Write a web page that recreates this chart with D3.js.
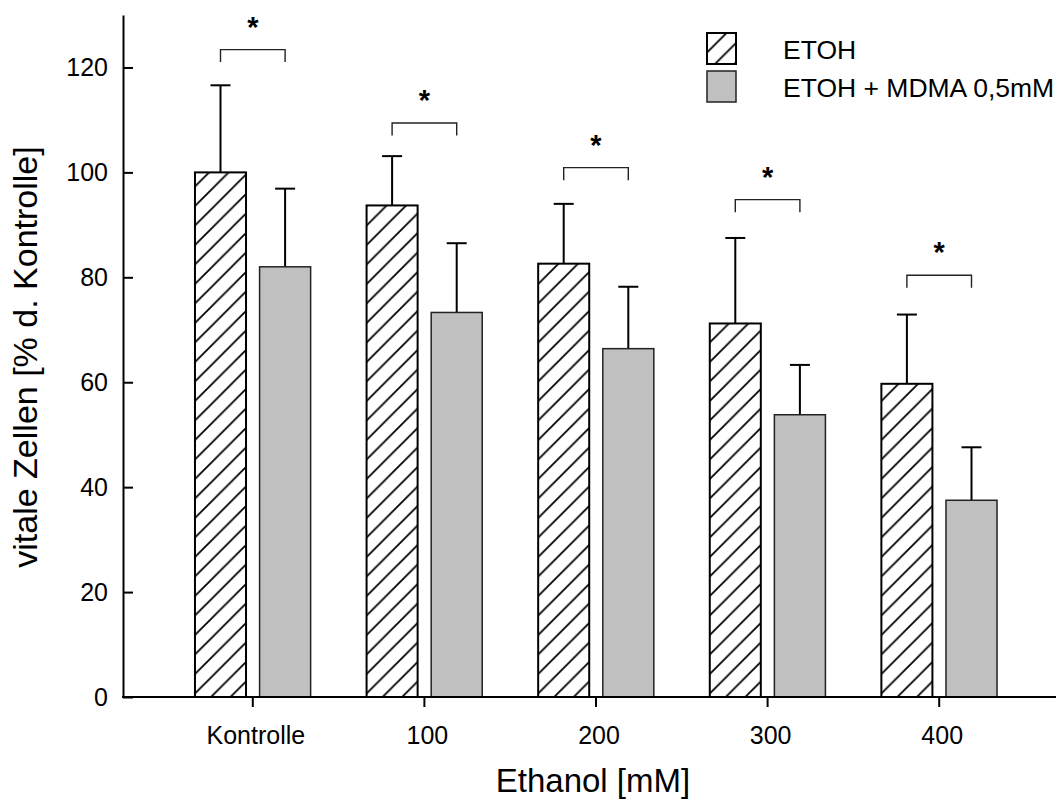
<!DOCTYPE html>
<html>
<head>
<meta charset="utf-8">
<script src="https://cdn.jsdelivr.net/npm/d3@7"></script>
<style>
  body { margin: 0; background: #fff; }
  svg { display: block; font-family: "Liberation Sans", Arial, sans-serif; }
</style>
</head>
<body>
<svg id="chart" width="1056" height="805"></svg>
<script>
// Ethanol concentrations on the x axis
const categories = ["Kontrolle", "100", "200", "300", "400"];
const seriesNames = ["ETOH", "ETOH + MDMA 0,5mM"];

// Viable cells, % of control (mean and upper error)
const etohMean = [100.0, 93.7, 82.6, 71.2, 59.7];
const etohErr  = [16.6, 9.4, 11.4, 16.3, 13.2];
const mdmaMean = [82.0, 73.3, 66.4, 53.8, 37.5];
const mdmaErr  = [14.9, 13.2, 11.8, 9.5, 10.1];

// Height of the significance bracket over each pair
const bracketLevel = [123.4, 109.4, 100.9, 94.8, 80.4];
const sigLabel = ["*", "*", "*", "*", "*"];

const yTicks = [0, 20, 40, 60, 80, 100, 120];

const svg = d3.select("#chart");
const FONT_TICK = 25;

const y = d3.scaleLinear().domain([0, 130]).range([697, 15]);
const x = d3.scaleBand().domain(categories).range([167, 1025]).padding(0);
const xs = d3.scaleBand().domain(seriesNames)
  .range([0, x.bandwidth()]).paddingInner(0.21).paddingOuter(0.433);

// hatch pattern for the ETOH bars
const S = 19.5;
const defs = svg.append("defs");
const pat = defs.append("pattern")
  .attr("id", "hatch").attr("patternUnits", "userSpaceOnUse")
  .attr("width", S).attr("height", S);
pat.append("rect").attr("width", S).attr("height", S).attr("fill", "#fff");
pat.append("path")
  .attr("d", `M0,${S} L${S},0 M${-S/2},${S/2} L${S/2},${-S/2} M${S/2},${S*1.5} L${S*1.5},${S/2}`)
  .attr("stroke", "#000").attr("stroke-width", 1.8).attr("fill", "none");

const rows = categories.map((c, i) => ({
  cat: c,
  bars: [
    { s: seriesNames[0], v: etohMean[i], e: etohErr[i] },
    { s: seriesNames[1], v: mdmaMean[i], e: mdmaErr[i] }
  ],
  bracket: bracketLevel[i],
  sig: sigLabel[i]
}));

const g = svg.append("g");

const groups = g.selectAll("g.grp").data(rows).join("g")
  .attr("class", "grp")
  .attr("transform", d => `translate(${x(d.cat)},0)`);

// error bars (upper only), drawn under the bars
groups.selectAll("line.err").data(d => d.bars).join("line")
  .attr("class", "err")
  .attr("x1", d => xs(d.s) + xs.bandwidth() / 2)
  .attr("x2", d => xs(d.s) + xs.bandwidth() / 2)
  .attr("y1", d => y(d.v))
  .attr("y2", d => y(d.v + d.e))
  .attr("stroke", "#000").attr("stroke-width", 2);
groups.selectAll("line.cap").data(d => d.bars).join("line")
  .attr("class", "cap")
  .attr("x1", d => xs(d.s) + xs.bandwidth() / 2 - 10)
  .attr("x2", d => xs(d.s) + xs.bandwidth() / 2 + 10)
  .attr("y1", d => y(d.v + d.e))
  .attr("y2", d => y(d.v + d.e))
  .attr("stroke", "#000").attr("stroke-width", 2);

groups.selectAll("rect.bar").data(d => d.bars).join("rect")
  .attr("class", "bar")
  .attr("x", d => xs(d.s))
  .attr("width", xs.bandwidth())
  .attr("y", d => y(d.v))
  .attr("height", d => y(0) - y(d.v))
  .attr("fill", (d, i) => i === 0 ? "url(#hatch)" : "#c0c0c0")
  .attr("stroke", (d, i) => i === 0 ? "#000" : "#222")
  .attr("stroke-width", (d, i) => i === 0 ? 2 : 1.5);

// significance brackets
groups.append("path")
  .attr("d", d => {
    const x1 = xs(seriesNames[0]) + xs.bandwidth() / 2;
    const x2 = xs(seriesNames[1]) + xs.bandwidth() / 2;
    const yb = y(d.bracket);
    return `M${x1},${yb + 12.5} V${yb} H${x2} V${yb + 12.5}`;
  })
  .attr("fill", "none").attr("stroke", "#222").attr("stroke-width", 1.4);
groups.append("text")
  .attr("x", x.bandwidth() / 2)
  .attr("y", d => y(d.bracket) - 13)
  .attr("text-anchor", "middle")
  .attr("font-size", 29)
  .attr("font-weight", "bold")
  .text(d => d.sig);

// axes
const yAxis = d3.axisLeft(y).tickValues(yTicks).tickSizeInner(-10).tickSizeOuter(0).tickPadding(15);
const ya = svg.append("g").attr("transform", "translate(123,0)").call(yAxis);
ya.select(".domain").attr("stroke", "#000").attr("stroke-width", 2);
ya.selectAll(".tick line").attr("stroke", "#000").attr("stroke-width", 2);
ya.selectAll(".tick text").attr("font-size", FONT_TICK).attr("fill", "#000")
  .attr("font-family", "Liberation Sans, Arial, sans-serif");

const xAxis = d3.axisBottom(x).tickSizeInner(10).tickSizeOuter(0).tickPadding(19);
const xa = svg.append("g").attr("transform", "translate(0,697)").call(xAxis);
xa.select(".domain").remove();
xa.selectAll(".tick line").attr("stroke", "#000").attr("stroke-width", 2);
xa.selectAll(".tick text").attr("font-size", FONT_TICK).attr("fill", "#000")
  .attr("dx", 3)
  .attr("font-family", "Liberation Sans, Arial, sans-serif");
svg.append("line")
  .attr("x1", 122).attr("x2", 1056).attr("y1", y(0)).attr("y2", y(0))
  .attr("stroke", "#000").attr("stroke-width", 2);

// axis titles
svg.append("text")
  .attr("x", 593).attr("y", 792)
  .attr("text-anchor", "middle").attr("font-size", 33)
  .text("Ethanol [mM]");
svg.append("text")
  .attr("transform", "translate(37,357) rotate(-90)")
  .attr("text-anchor", "middle").attr("font-size", 34)
  .text("vitale Zellen [% d. Kontrolle]");

// legend
const lg = svg.append("g").attr("transform", "translate(707,33)");
seriesNames.forEach((name, i) => {
  const row = lg.append("g").attr("transform", `translate(0,${i * 38})`);
  row.append("rect").attr("width", 29).attr("height", 31)
    .attr("fill", i === 0 ? "url(#hatch)" : "#c0c0c0")
    .attr("stroke", i === 0 ? "#000" : "#222")
    .attr("stroke-width", i === 0 ? 2 : 1.5);
  row.append("text").attr("x", 76).attr("y", 26)
    .attr("font-size", 26.5).text(name);
});
</script>
</body>
</html>
